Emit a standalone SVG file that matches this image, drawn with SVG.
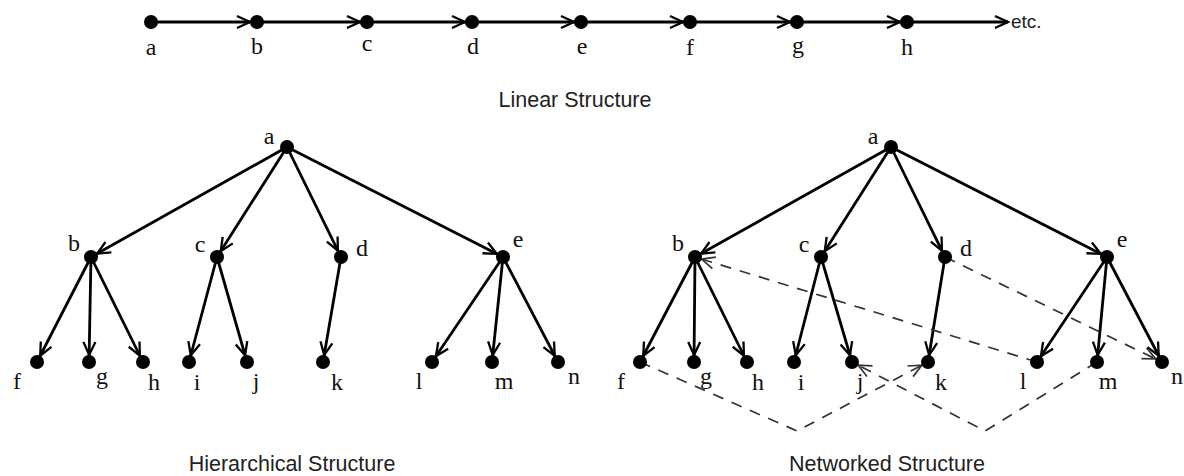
<svg xmlns="http://www.w3.org/2000/svg" width="1184" height="476" viewBox="0 0 1184 476">
<style>
.n{fill:#000}
.e{stroke:#000;stroke-width:2.8;fill:none}
.dsh{stroke:#333;stroke-width:1.7;fill:none;stroke-dasharray:11 9}
.lb{font-family:"Liberation Serif","Times New Roman",serif;font-size:24px;fill:#111;text-anchor:middle}
.cap{font-family:"Liberation Sans",Arial,sans-serif;font-size:21.5px;fill:#222;text-anchor:middle}
.etc{font-family:"Liberation Sans",Arial,sans-serif;font-size:19px;fill:#222}
</style>
<defs>
<marker id="ar" markerUnits="userSpaceOnUse" markerWidth="20" markerHeight="14" refX="20" refY="6" orient="auto" overflow="visible">
<path d="M0,0 L13,6 L0,12" fill="none" stroke="#000" stroke-width="2.3"/>
</marker>
<marker id="ar0" markerUnits="userSpaceOnUse" markerWidth="20" markerHeight="14" refX="13" refY="6" orient="auto" overflow="visible">
<path d="M0,0 L13,6 L0,12" fill="none" stroke="#000" stroke-width="2.3"/>
</marker>
<marker id="ad" markerUnits="userSpaceOnUse" markerWidth="20" markerHeight="14" refX="20" refY="6" orient="auto" overflow="visible">
<path d="M0,0 L13,6 L0,12" fill="none" stroke="#333" stroke-width="1.7"/>
</marker>
</defs>
<g id="connectors">
<g class="e" marker-end="url(#ar)">
<line x1="151" y1="22" x2="257" y2="22"/>
<line x1="257" y1="22" x2="367" y2="22"/>
<line x1="367" y1="22" x2="472" y2="22"/>
<line x1="472" y1="22" x2="581" y2="22"/>
<line x1="581" y1="22" x2="690" y2="22"/>
<line x1="690" y1="22" x2="797" y2="22"/>
<line x1="797" y1="22" x2="907" y2="22"/>
</g>
<line class="e" x1="907" y1="22" x2="1008" y2="22" marker-end="url(#ar0)"/>
<g class="e" marker-end="url(#ar)">
<line x1="287" y1="147" x2="91" y2="257"/>
<line x1="287" y1="147" x2="217" y2="257"/>
<line x1="287" y1="147" x2="341" y2="257"/>
<line x1="287" y1="147" x2="503" y2="257"/>
<line x1="91" y1="257" x2="37" y2="362"/>
<line x1="91" y1="257" x2="89" y2="362"/>
<line x1="91" y1="257" x2="143" y2="362"/>
<line x1="217" y1="257" x2="189" y2="362"/>
<line x1="217" y1="257" x2="247" y2="362"/>
<line x1="341" y1="257" x2="323" y2="362"/>
<line x1="503" y1="257" x2="432" y2="362"/>
<line x1="503" y1="257" x2="492" y2="362"/>
<line x1="503" y1="257" x2="558" y2="362"/>
</g>
<g class="e" marker-end="url(#ar)">
<line x1="891" y1="147" x2="695" y2="257"/>
<line x1="891" y1="147" x2="821" y2="257"/>
<line x1="891" y1="147" x2="945" y2="257"/>
<line x1="891" y1="147" x2="1107" y2="257"/>
<line x1="695" y1="257" x2="640" y2="362"/>
<line x1="695" y1="257" x2="694" y2="362"/>
<line x1="695" y1="257" x2="747" y2="362"/>
<line x1="821" y1="257" x2="794" y2="362"/>
<line x1="821" y1="257" x2="852" y2="362"/>
<line x1="945" y1="257" x2="928" y2="362"/>
<line x1="1107" y1="257" x2="1037" y2="362"/>
<line x1="1107" y1="257" x2="1097" y2="362"/>
<line x1="1107" y1="257" x2="1162" y2="362"/>
</g>
<g class="dsh" marker-end="url(#ad)">
<line x1="1037" y1="362" x2="695" y2="257"/>
<line x1="945" y1="257" x2="1162" y2="362"/>
<polyline points="640,362 797,431 928,362"/>
<polyline points="1097,362 985,431 852,362"/>
</g>
</g>
<g id="linear">
<g id="la"><circle class="n" cx="151" cy="22" r="7"/><text class="lb" x="151" y="55">a</text></g>
<g id="lb"><circle class="n" cx="257" cy="22" r="7"/><text class="lb" x="257" y="54">b</text></g>
<g id="lc"><circle class="n" cx="367" cy="22" r="7"/><text class="lb" x="367" y="51">c</text></g>
<g id="ld"><circle class="n" cx="472" cy="22" r="7"/><text class="lb" x="473" y="54">d</text></g>
<g id="le"><circle class="n" cx="581" cy="22" r="7"/><text class="lb" x="582" y="54">e</text></g>
<g id="lf"><circle class="n" cx="690" cy="22" r="7"/><text class="lb" x="690" y="55">f</text></g>
<g id="lg"><circle class="n" cx="797" cy="22" r="7"/><text class="lb" x="798" y="53">g</text></g>
<g id="lh"><circle class="n" cx="907" cy="22" r="7"/><text class="lb" x="907" y="55">h</text></g>
<text class="etc" x="1011" y="28">etc.</text>
<text class="cap" x="575" y="107">Linear Structure</text>
</g>
<g id="hierarchical">
<g id="ha"><circle class="n" cx="287" cy="147" r="7"/><text class="lb" x="269" y="144">a</text></g>
<g id="hb"><circle class="n" cx="91" cy="257" r="7"/><text class="lb" x="74" y="251">b</text></g>
<g id="hc"><circle class="n" cx="217" cy="257" r="7"/><text class="lb" x="200" y="252">c</text></g>
<g id="hd"><circle class="n" cx="341" cy="257" r="7"/><text class="lb" x="362" y="256">d</text></g>
<g id="he"><circle class="n" cx="503" cy="257" r="7"/><text class="lb" x="518" y="247">e</text></g>
<g id="hf"><circle class="n" cx="37" cy="362" r="7"/><text class="lb" x="17" y="389">f</text></g>
<g id="hg"><circle class="n" cx="89" cy="362" r="7"/><text class="lb" x="102" y="384">g</text></g>
<g id="hh"><circle class="n" cx="143" cy="362" r="7"/><text class="lb" x="154" y="390">h</text></g>
<g id="hi"><circle class="n" cx="189" cy="362" r="7"/><text class="lb" x="197" y="390">i</text></g>
<g id="hj"><circle class="n" cx="247" cy="362" r="7"/><text class="lb" x="256" y="389">j</text></g>
<g id="hk"><circle class="n" cx="323" cy="362" r="7"/><text class="lb" x="337" y="390">k</text></g>
<g id="hl"><circle class="n" cx="432" cy="362" r="7"/><text class="lb" x="419" y="389">l</text></g>
<g id="hm"><circle class="n" cx="492" cy="362" r="7"/><text class="lb" x="504" y="389">m</text></g>
<g id="hn"><circle class="n" cx="558" cy="362" r="7"/><text class="lb" x="574" y="384">n</text></g>
<text class="cap" x="292" y="471">Hierarchical Structure</text>
</g>
<g id="networked">
<g id="na"><circle class="n" cx="891" cy="147" r="7"/><text class="lb" x="873" y="144">a</text></g>
<g id="nb"><circle class="n" cx="695" cy="257" r="7"/><text class="lb" x="678" y="251">b</text></g>
<g id="nc"><circle class="n" cx="821" cy="257" r="7"/><text class="lb" x="804" y="252">c</text></g>
<g id="nd"><circle class="n" cx="945" cy="257" r="7"/><text class="lb" x="966" y="256">d</text></g>
<g id="ne"><circle class="n" cx="1107" cy="257" r="7"/><text class="lb" x="1122" y="247">e</text></g>
<g id="nf"><circle class="n" cx="640" cy="362" r="7"/><text class="lb" x="621" y="389">f</text></g>
<g id="ng"><circle class="n" cx="694" cy="362" r="7"/><text class="lb" x="706" y="384">g</text></g>
<g id="nh"><circle class="n" cx="747" cy="362" r="7"/><text class="lb" x="758" y="390">h</text></g>
<g id="ni"><circle class="n" cx="794" cy="362" r="7"/><text class="lb" x="801" y="390">i</text></g>
<g id="nj"><circle class="n" cx="852" cy="362" r="7"/><text class="lb" x="860" y="389">j</text></g>
<g id="nk"><circle class="n" cx="928" cy="362" r="7"/><text class="lb" x="941" y="390">k</text></g>
<g id="nl"><circle class="n" cx="1037" cy="362" r="7"/><text class="lb" x="1023" y="389">l</text></g>
<g id="nm"><circle class="n" cx="1097" cy="362" r="7"/><text class="lb" x="1108" y="389">m</text></g>
<g id="nn"><circle class="n" cx="1162" cy="362" r="7"/><text class="lb" x="1177" y="384">n</text></g>
<text class="cap" x="887" y="471">Networked Structure</text>
</g>
</svg>
